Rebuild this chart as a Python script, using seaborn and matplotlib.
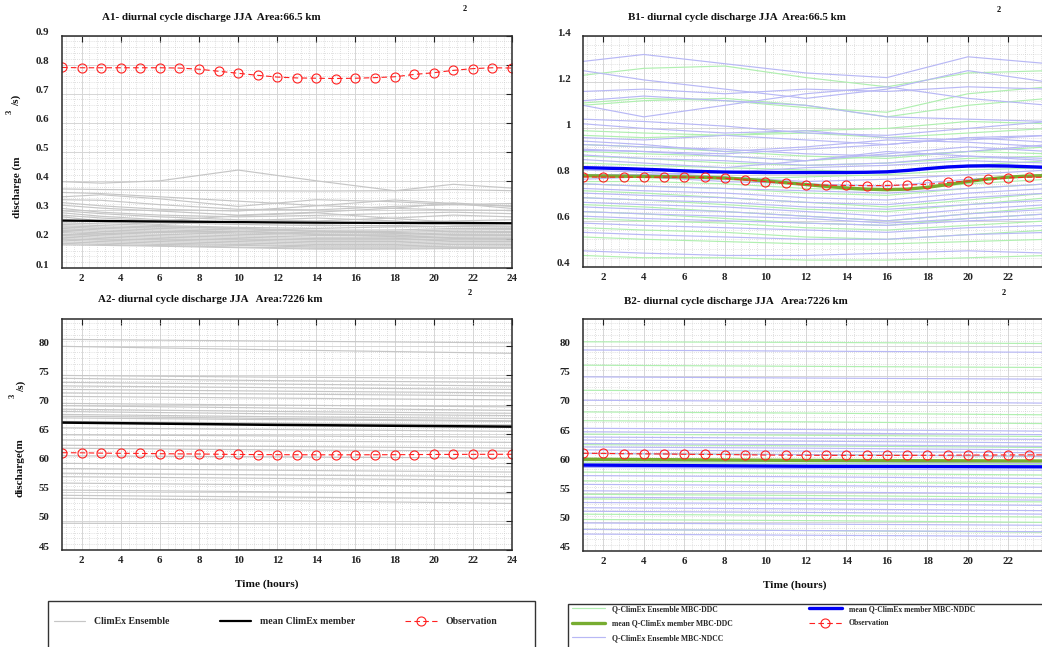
import numpy as np
import pandas as pd
import matplotlib
matplotlib.use("Agg")
import matplotlib.pyplot as plt
import matplotlib.transforms as mtransforms
from matplotlib.patches import Rectangle
from matplotlib.ticker import MultipleLocator, FixedLocator
import seaborn as sns

# ---------------- data ----------------
HOURS = list(range(1, 25))
XTICKS = list(range(2, 25, 2))

# Observations (m3/s)
OBS_SMALL = [0.790, 0.789, 0.789, 0.789, 0.789, 0.789, 0.788, 0.784, 0.777, 0.770, 0.763, 0.757,
             0.754, 0.753, 0.752, 0.753, 0.755, 0.758, 0.766, 0.772, 0.780, 0.786, 0.789, 0.788]
OBS_LARGE = [61.72, 61.70, 61.65, 61.62, 61.60, 61.55, 61.52, 61.50, 61.46, 61.42, 61.40, 61.38,
             61.37, 61.36, 61.36, 61.36, 61.37, 61.38, 61.40, 61.42, 61.43, 61.44, 61.45, 61.45]

# A1: ClimEx ensemble, basin 66.5 km2 (values at knot hours)
A1_KNOTS = [1, 3, 6, 10, 14, 18, 21, 24]
A1_ENS = [
    [0.397, 0.392, 0.400, 0.437, 0.400, 0.366, 0.388, 0.375],
    [0.372, 0.370, 0.368, 0.366, 0.365, 0.366, 0.370, 0.366],
    [0.360, 0.356, 0.345, 0.330, 0.315, 0.305, 0.300, 0.298],
    [0.345, 0.352, 0.338, 0.312, 0.335, 0.328, 0.318, 0.314],
    [0.335, 0.333, 0.318, 0.302, 0.300, 0.312, 0.318, 0.322],
    [0.325, 0.314, 0.302, 0.296, 0.314, 0.334, 0.322, 0.305],
    [0.316, 0.306, 0.296, 0.282, 0.292, 0.306, 0.324, 0.312],
    [0.305, 0.292, 0.282, 0.276, 0.281, 0.288, 0.292, 0.287],
    [0.297, 0.287, 0.276, 0.266, 0.262, 0.272, 0.282, 0.276],
    [0.290, 0.278, 0.266, 0.258, 0.251, 0.256, 0.262, 0.266],
    [0.282, 0.272, 0.262, 0.280, 0.290, 0.270, 0.258, 0.256],
    [0.276, 0.262, 0.256, 0.250, 0.246, 0.246, 0.251, 0.252],
    [0.255, 0.252, 0.246, 0.240, 0.236, 0.242, 0.243, 0.241],
    [0.250, 0.246, 0.241, 0.236, 0.230, 0.231, 0.236, 0.236],
    [0.245, 0.241, 0.236, 0.231, 0.226, 0.226, 0.231, 0.232],
    [0.241, 0.236, 0.231, 0.226, 0.221, 0.222, 0.226, 0.226],
    [0.236, 0.231, 0.226, 0.221, 0.216, 0.216, 0.221, 0.222],
    [0.231, 0.226, 0.222, 0.216, 0.212, 0.211, 0.216, 0.216],
    [0.226, 0.221, 0.216, 0.211, 0.206, 0.206, 0.211, 0.211],
    [0.222, 0.216, 0.211, 0.206, 0.201, 0.201, 0.206, 0.206],
    [0.216, 0.211, 0.206, 0.201, 0.196, 0.196, 0.201, 0.201],
    [0.211, 0.206, 0.201, 0.196, 0.191, 0.191, 0.196, 0.196],
    [0.206, 0.201, 0.196, 0.191, 0.186, 0.186, 0.191, 0.191],
    [0.201, 0.196, 0.191, 0.186, 0.181, 0.181, 0.186, 0.186],
    [0.196, 0.191, 0.186, 0.181, 0.176, 0.176, 0.181, 0.181],
    [0.190, 0.186, 0.181, 0.178, 0.172, 0.172, 0.175, 0.176],
    [0.185, 0.181, 0.177, 0.172, 0.168, 0.168, 0.170, 0.171],
    [0.180, 0.178, 0.175, 0.170, 0.165, 0.165, 0.167, 0.168],
    [0.268, 0.258, 0.250, 0.262, 0.272, 0.262, 0.248, 0.244],
    [0.229, 0.236, 0.243, 0.236, 0.226, 0.219, 0.214, 0.212],
    [0.212, 0.218, 0.224, 0.226, 0.216, 0.208, 0.203, 0.199],
]
A1_MEAN = [0.263, 0.262, 0.260, 0.258, 0.256, 0.255, 0.255, 0.254]

# B1: Q-ClimEx ensembles, basin 66.5 km2
B1_KNOTS = [1, 4, 8, 12, 16, 20, 24]
B1_ENS_NDCC = [
    [1.29, 1.32, 1.28, 1.24, 1.22, 1.31, 1.28],
    [1.25, 1.21, 1.17, 1.13, 1.17, 1.25, 1.20],
    [1.16, 1.17, 1.15, 1.17, 1.16, 1.18, 1.17],
    [1.12, 1.14, 1.12, 1.10, 1.05, 1.04, 1.03],
    [1.10, 1.05, 1.10, 1.15, 1.18, 1.13, 1.10],
    [1.04, 1.03, 1.01, 0.98, 0.97, 1.00, 1.03],
    [1.02, 1.00, 0.98, 0.99, 0.96, 0.95, 0.97],
    [0.96, 0.95, 0.97, 0.95, 0.93, 0.96, 0.97],
    [0.945, 0.93, 0.90, 0.92, 0.95, 0.94, 0.92],
    [0.93, 0.92, 0.91, 0.89, 0.88, 0.90, 0.93],
    [0.905, 0.90, 0.88, 0.86, 0.89, 0.92, 0.90],
    [0.885, 0.87, 0.86, 0.84, 0.85, 0.88, 0.87],
    [0.865, 0.85, 0.83, 0.86, 0.90, 0.88, 0.86],
    [0.78, 0.79, 0.77, 0.76, 0.75, 0.78, 0.80],
    [0.76, 0.75, 0.74, 0.73, 0.72, 0.74, 0.76],
    [0.74, 0.73, 0.72, 0.70, 0.69, 0.72, 0.74],
    [0.72, 0.71, 0.70, 0.68, 0.67, 0.70, 0.72],
    [0.70, 0.69, 0.68, 0.66, 0.65, 0.67, 0.69],
    [0.68, 0.67, 0.66, 0.64, 0.62, 0.65, 0.67],
    [0.66, 0.65, 0.64, 0.62, 0.60, 0.63, 0.65],
    [0.64, 0.63, 0.62, 0.61, 0.59, 0.61, 0.63],
    [0.62, 0.61, 0.60, 0.59, 0.58, 0.60, 0.61],
    [0.59, 0.58, 0.57, 0.56, 0.55, 0.57, 0.58],
    [0.55, 0.54, 0.53, 0.52, 0.52, 0.54, 0.55],
    [0.47, 0.46, 0.45, 0.45, 0.46, 0.47, 0.46],
    [0.80, 0.80, 0.81, 0.83, 0.84, 0.86, 0.85],
    [0.82, 0.81, 0.79, 0.77, 0.78, 0.80, 0.82],
    [0.91, 0.90, 0.89, 0.91, 0.93, 0.96, 0.94],
]
B1_ENS_DDC = [
    [1.23, 1.26, 1.27, 1.22, 1.18, 1.24, 1.25],
    [1.11, 1.13, 1.12, 1.09, 1.07, 1.15, 1.18],
    [1.10, 1.12, 1.13, 1.10, 1.05, 1.10, 1.13],
    [0.99, 0.98, 0.97, 0.99, 1.00, 1.03, 1.02],
    [0.97, 0.96, 0.97, 0.98, 0.96, 0.98, 1.00],
    [0.90, 0.89, 0.88, 0.86, 0.88, 0.90, 0.89],
    [0.88, 0.87, 0.85, 0.84, 0.85, 0.87, 0.88],
    [0.85, 0.84, 0.83, 0.82, 0.81, 0.84, 0.86],
    [0.76, 0.75, 0.74, 0.72, 0.71, 0.74, 0.76],
    [0.73, 0.72, 0.70, 0.68, 0.66, 0.69, 0.72],
    [0.70, 0.69, 0.67, 0.65, 0.64, 0.67, 0.70],
    [0.67, 0.66, 0.64, 0.62, 0.60, 0.63, 0.66],
    [0.64, 0.63, 0.61, 0.59, 0.58, 0.61, 0.63],
    [0.61, 0.60, 0.59, 0.57, 0.56, 0.58, 0.60],
    [0.57, 0.56, 0.55, 0.53, 0.52, 0.54, 0.56],
    [0.53, 0.52, 0.51, 0.50, 0.50, 0.51, 0.52],
    [0.45, 0.44, 0.44, 0.43, 0.43, 0.44, 0.45],
    [0.80, 0.79, 0.78, 0.79, 0.80, 0.82, 0.83],
    [0.93, 0.92, 0.90, 0.88, 0.87, 0.90, 0.92],
    [0.77, 0.77, 0.76, 0.74, 0.73, 0.76, 0.78],
]
B1_MEAN_NDDC = [0.830, 0.828, 0.826, 0.823, 0.820, 0.816, 0.813, 0.811, 0.810, 0.809, 0.809, 0.809,
                0.809, 0.809, 0.810, 0.812, 0.818, 0.826, 0.833, 0.837, 0.838, 0.837, 0.834, 0.831]
B1_MEAN_DDC = [0.795, 0.794, 0.793, 0.792, 0.791, 0.790, 0.788, 0.785, 0.780, 0.773, 0.765, 0.757,
               0.749, 0.742, 0.737, 0.735, 0.737, 0.745, 0.757, 0.770, 0.781, 0.789, 0.794, 0.796]

# A2: ClimEx ensemble, basin 7226 km2
A2_KNOTS = [1, 12, 24]
A2_ENS = [
    [81.2, 80.9, 80.6], [80.0, 79.4, 78.8], [75.0, 74.7, 74.5], [74.5, 74.1, 73.8],
    [73.8, 73.5, 73.2], [73.2, 72.9, 72.6], [72.6, 72.3, 72.0], [71.4, 71.1, 70.8],
    [69.8, 69.4, 69.0], [69.2, 68.8, 68.5], [68.8, 68.4, 68.1], [68.3, 67.9, 67.6],
    [67.7, 67.4, 67.1], [67.1, 66.8, 66.5], [64.8, 64.6, 64.4], [63.9, 63.7, 63.5],
    [63.0, 62.8, 62.5], [62.5, 62.2, 62.0], [61.2, 61.0, 60.8], [59.9, 59.6, 59.3],
    [59.0, 58.7, 58.4], [58.2, 57.9, 57.6], [57.6, 57.3, 57.0], [56.5, 56.2, 55.9],
    [55.3, 55.0, 54.7], [54.4, 54.1, 53.8], [53.9, 53.5, 53.0], [49.6, 49.5, 49.4],
    [70.2, 69.9, 69.6], [66.0, 65.7, 65.4], [68.0, 67.6, 67.2], [72.0, 71.8, 71.5],
]
A2_MEAN = [66.9, 66.5, 66.2]

# B2: Q-ClimEx ensembles, basin 7226 km2
B2_KNOTS = [1, 12, 24]
B2_ENS_NDCC = [
    [79.4, 79.2, 79.0], [74.8, 74.6, 74.4], [70.8, 70.6, 70.3], [66.0, 65.8, 65.5],
    [65.4, 65.2, 64.9], [64.5, 64.3, 64.1], [64.0, 63.8, 63.5], [63.4, 63.2, 62.9],
    [62.8, 62.6, 62.3], [62.3, 62.1, 61.8], [61.7, 61.5, 61.2], [57.9, 57.7, 57.4],
    [56.4, 56.2, 55.9], [55.3, 55.1, 54.8], [54.2, 54.0, 53.7], [53.3, 53.1, 52.8],
    [52.4, 52.2, 51.9], [51.8, 51.6, 51.3], [49.8, 49.6, 49.4], [48.7, 48.5, 48.3],
    [47.9, 47.7, 47.5], [60.5, 60.3, 60.0], [59.3, 59.1, 58.8],
]
B2_ENS_DDC = [
    [80.8, 80.7, 80.5], [76.8, 76.6, 76.4], [72.5, 72.3, 72.1], [68.8, 68.6, 68.3],
    [67.3, 67.1, 66.8], [65.0, 64.8, 64.6], [61.7, 61.5, 61.2], [58.5, 58.3, 58.0],
    [57.0, 56.8, 56.5], [54.7, 54.5, 54.2], [53.9, 53.7, 53.4], [51.3, 51.1, 50.8],
    [50.4, 50.2, 49.9], [48.7, 48.5, 48.2], [63.2, 63.0, 62.7], [60.2, 60.0, 59.8],
]
B2_MEAN_NDDC = [59.7, 59.5, 59.4]
B2_MEAN_DDC = [60.7, 60.5, 60.4]

A1_YTICKS = [0.1, 0.2, 0.3, 0.4, 0.5, 0.6, 0.7, 0.8, 0.9]
B1_YTICKS = [0.4, 0.6, 0.8, 1.0, 1.2, 1.4]
A2_YTICKS = [45, 50, 55, 60, 65, 70, 75, 80]

TITLES = ["A1- diurnal cycle discharge JJA  Area:66.5 km",
          "B1- diurnal cycle discharge JJA  Area:66.5 km",
          "A2- diurnal cycle discharge JJA   Area:7226 km",
          "B2- diurnal cycle discharge JJA   Area:7226 km"]

# ---------------- style ----------------
sns.set_theme(style="white")
plt.rcParams["font.family"] = ["Liberation Serif", "DejaVu Serif"]
plt.rcParams["font.weight"] = "bold"

C_GRAY = "#c6c6c6"
C_LAV = "#b8b8f5"
C_LGREEN = "#b0efb0"
C_BLUE = "#0000f5"
C_GREEN = "#77ac30"
C_RED = "#ff2020"

W, H = 1042, 647
fig = plt.figure(figsize=(W / 100, H / 100), dpi=100)


def rect(l, t, r, b):
    return [l / W, 1 - b / H, (r - l) / W, (b - t) / H]


def fx(x):
    return x / W


def fy(y):
    return 1 - y / H


def ens_frame(knots, members):
    rows = [(i, h, v) for i, m in enumerate(members) for h, v in zip(knots, m)]
    return pd.DataFrame(rows, columns=["member", "hour", "value"])


def draw_ens(ax, knots, members, color, lw=0.85):
    n0 = len(ax.lines)
    sns.lineplot(data=ens_frame(knots, members), x="hour", y="value", units="member",
                 estimator=None, color=color, lw=lw, ax=ax, legend=False)
    return ax.lines[n0]


def draw_line(ax, x, y, color, lw):
    n0 = len(ax.lines)
    sns.lineplot(x=x, y=y, color=color, lw=lw, ax=ax, legend=False)
    return ax.lines[n0]


def draw_obs(ax, obs):
    n0 = len(ax.lines)
    sns.lineplot(x=HOURS, y=obs, ax=ax, color=C_RED, lw=0.8, linestyle=(0, (5, 3)),
                 marker="o", markersize=6.5, markerfacecolor="none",
                 markeredgecolor=C_RED, markeredgewidth=0.8, legend=False)
    return ax.lines[n0]


def style_axes(ax, ylim, yticks, fmt):
    ax.set_xlim(1, 24)
    ax.set_ylim(*ylim)
    ax.xaxis.set_major_locator(FixedLocator(XTICKS))
    ax.xaxis.set_minor_locator(MultipleLocator(0.4))
    ax.yaxis.set_major_locator(FixedLocator(yticks))
    step = (yticks[1] - yticks[0]) / 5
    ax.yaxis.set_minor_locator(MultipleLocator(step))
    ax.yaxis.set_major_formatter(plt.FuncFormatter(fmt))
    ax.set_axisbelow(True)
    ax.grid(which="major", color="#d6d6d6", lw=0.7, ls="-")
    ax.grid(which="minor", color="#c4c4c4", lw=0.5, ls=(0, (1, 2)))
    ax.tick_params(which="major", direction="in", length=4, width=0.8, color="#222222",
                   top=True, right=True, labelsize=7.8, labelcolor="#222222")
    ax.tick_params(which="minor", length=0)
    ax.tick_params(axis="y", pad=9)
    ax.tick_params(axis="x", pad=4)
    for s in ax.spines.values():
        s.set_color("#2a2a2a")
        s.set_linewidth(1.1)
    ax.set_xlabel("")
    ax.set_ylabel("")


# ---------------- panels ----------------
axA1 = fig.add_axes(rect(62, 35.5, 512, 268))
axB1 = fig.add_axes(rect(583, 36, 1049, 267))
axA2 = fig.add_axes(rect(62, 319, 512, 550))
axB2 = fig.add_axes(rect(583, 319, 1049, 551))

# A1
hA_ens = draw_ens(axA1, A1_KNOTS, A1_ENS, C_GRAY)
hA_mean = draw_line(axA1, A1_KNOTS, A1_MEAN, "black", 1.6)
hA_obs = draw_obs(axA1, OBS_SMALL)
style_axes(axA1, (0.1, 0.9), A1_YTICKS, lambda v, p: f"{v:.1f}")

# B1
hB_ddc = draw_ens(axB1, B1_KNOTS, B1_ENS_DDC, C_LGREEN)
hB_ndcc = draw_ens(axB1, B1_KNOTS, B1_ENS_NDCC, C_LAV)
hB_mndc = draw_line(axB1, HOURS, B1_MEAN_NDDC, C_BLUE, 2.4)
hB_mddc = draw_line(axB1, HOURS, B1_MEAN_DDC, C_GREEN, 2.4)
hB_obs = draw_obs(axB1, OBS_SMALL)
style_axes(axB1, (0.4, 1.4), B1_YTICKS, lambda v, p: f"{v:g}")

# A2
draw_ens(axA2, A2_KNOTS, A2_ENS, C_GRAY)
draw_line(axA2, A2_KNOTS, A2_MEAN, "black", 1.8)
draw_obs(axA2, OBS_LARGE)
style_axes(axA2, (45, 84.7), A2_YTICKS, lambda v, p: f"{v:g}")

# B2
draw_ens(axB2, B2_KNOTS, B2_ENS_DDC, C_LGREEN)
draw_ens(axB2, B2_KNOTS, B2_ENS_NDCC, C_LAV)
draw_line(axB2, B2_KNOTS, B2_MEAN_DDC, C_GREEN, 2.4)
draw_line(axB2, B2_KNOTS, B2_MEAN_NDDC, C_BLUE, 2.4)
draw_obs(axB2, OBS_LARGE)
style_axes(axB2, (45, 84.7), A2_YTICKS, lambda v, p: f"{v:g}")

# raise y tick labels slightly (as in the reference rendering)
off = mtransforms.ScaledTranslation(0, 4 / 100, fig.dpi_scale_trans)
for ax in (axA1, axB1, axA2, axB2):
    for lab in ax.get_yticklabels():
        lab.set_transform(lab.get_transform() + off)

# ---------------- texts ----------------
tkw = dict(ha="center", va="center", fontsize=7.9, fontweight="bold", color="#111111")
fig.text(fx(211), fy(17), TITLES[0], **tkw)
fig.text(fx(737), fy(18), TITLES[1], **tkw)
fig.text(fx(210), fy(299), TITLES[2], **tkw)
fig.text(fx(736), fy(302), TITLES[3], **tkw)
skw = dict(ha="center", va="center", fontsize=6, fontweight="bold", color="#111111")
fig.text(fx(465), fy(9), "2", **skw)
fig.text(fx(999), fy(10), "2", **skw)
fig.text(fx(470), fy(293), "2", **skw)
fig.text(fx(1004), fy(293), "2", **skw)

ykw = dict(ha="center", va="center", rotation=90, fontsize=8, fontweight="bold", color="#111111")
fig.text(fx(17), fy(187), "discharge (m", **ykw)
fig.text(fx(16), fy(100), "/s)", **ykw)
fig.text(fx(10), fy(112), "3", **dict(ykw, fontsize=6))
fig.text(fx(20), fy(468), "discharge(m", **ykw)
fig.text(fx(21), fy(386), "/s)", **ykw)
fig.text(fx(13), fy(396), "3", **dict(ykw, fontsize=6))

xkw = dict(ha="center", va="center", fontsize=8.2, fontweight="bold", color="#111111")
fig.text(fx(267), fy(584), "Time (hours)", **xkw)
fig.text(fx(795), fy(585), "Time (hours)", **xkw)

# ---------------- legends ----------------
fig.add_artist(Rectangle((fx(48), fy(655)), (535 - 48) / W, (655 - 601) / H,
                         transform=fig.transFigure, fill=False, ec="#333333", lw=1.0))
fig.legend(handles=[hA_ens, hA_mean, hA_obs],
           labels=["ClimEx Ensemble", "mean ClimEx member", "Observation"],
           loc="center left", bbox_to_anchor=(fx(54), fy(622)), ncol=3, frameon=False,
           prop=dict(size=7, weight="bold"), handlelength=3.2, handletextpad=0.9,
           columnspacing=5.2, borderpad=0, borderaxespad=0)

fig.add_artist(Rectangle((fx(568), fy(660)), (1080 - 568) / W, (660 - 604) / H,
                         transform=fig.transFigure, fill=False, ec="#333333", lw=1.0))
fig.legend(handles=[hB_ddc, hB_mddc, hB_ndcc, hB_mndc, hB_obs],
           labels=["Q-ClimEx Ensemble MBC-DDC", "mean Q-ClimEx member MBC-DDC",
                   "Q-ClimEx Ensemble MBC-NDCC", "mean Q-ClimEx member MBC-NDDC", "Observation"],
           loc="upper left", bbox_to_anchor=(fx(572), fy(605)), ncol=2, frameon=False,
           prop=dict(size=5.5, weight="bold"), handlelength=4.3, handletextpad=0.9,
           columnspacing=10, labelspacing=0.85, borderpad=0, borderaxespad=0)

fig.savefig("out.png", dpi=100)
